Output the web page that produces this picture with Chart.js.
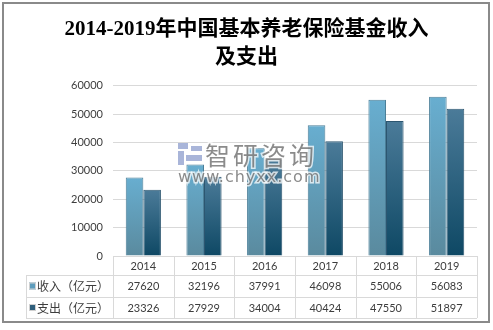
<!DOCTYPE html>
<html>
<head>
<meta charset="utf-8">
<script src="https://cdn.jsdelivr.net/npm/chart.js@4"></script>
<style>
  html, body { margin: 0; padding: 0; background: #fff; }
  #wrap { width: 493px; height: 330px; position: relative; }
</style>
</head>
<body>
<div id="wrap"><canvas id="fund"></canvas></div>
<script>
const years = ["2014", "2015", "2016", "2017", "2018", "2019"];
const income = [27620, 32196, 37991, 46098, 55006, 56083];
const expense = [23326, 27929, 34004, 40424, 47550, 51897];
const rowNames = ["收入（亿元）", "支出（亿元）"];
const titleLines = ["2014-2019年中国基本养老保险基金收入", "及支出"];

const numFont = "Lato, 'Noto Sans CJK SC', sans-serif";
const cjkFont = "'Noto Sans CJK SC', sans-serif";
const textColor = "#3d3d3d";
const lineColor = "#d9d9d9";

// vertical gradient per bar, lighter at the top of each bar
function barFill(top, bottom) {
  return (ctx) => {
    const chart = ctx.chart;
    const area = chart.chartArea;
    if (!area || ctx.type !== "data") return top;
    const y = chart.scales.y;
    const yTop = y.getPixelForValue(ctx.raw);
    const g = chart.ctx.createLinearGradient(0, yTop, 0, y.getPixelForValue(0));
    g.addColorStop(0, top);
    g.addColorStop(1, bottom);
    return g;
  };
}

// frame, data table under the axis and the watermark
const extras = {
  id: "extras",
  beforeDraw(chart) {
    const c = chart.ctx;
    c.save();
    c.strokeStyle = "#8a8a8a";
    c.lineWidth = 2;
    c.strokeRect(3, 3, 486, 319);
    c.restore();
  },
  afterDraw(chart) {
    const c = chart.ctx;
    const a = chart.chartArea;
    const x = chart.scales.x;
    const base = a.bottom;
    const rows = [base, base + 19, base + 41, base + 62];
    const legendLeft = 26;
    const half = (a.right - a.left) / years.length / 2;

    c.save();
    c.strokeStyle = lineColor;
    c.lineWidth = 1;
    c.beginPath();
    c.moveTo(a.left, base + 0.5); c.lineTo(a.right, base + 0.5);
    for (let r = 1; r < rows.length; r++) {
      c.moveTo(legendLeft, rows[r] + 0.5); c.lineTo(a.right, rows[r] + 0.5);
    }
    c.moveTo(legendLeft + 0.5, rows[1]); c.lineTo(legendLeft + 0.5, rows[3]);
    for (let i = 0; i <= years.length; i++) {
      const px = Math.round(i < years.length ? x.getPixelForValue(i) - half : x.getPixelForValue(i - 1) + half) + 0.5;
      c.moveTo(px, rows[0]); c.lineTo(px, rows[3]);
    }
    c.stroke();

    c.fillStyle = textColor;
    c.textAlign = "center";
    c.textBaseline = "middle";
    c.font = "11px " + numFont;
    const series = [income, expense];
    years.forEach((yr, i) => {
      const px = x.getPixelForValue(i);
      c.fillText(yr, px, (rows[0] + rows[1]) / 2 + 0.5);
      series.forEach((s, k) => {
        c.fillText(String(s[i]), px, (rows[k + 1] + rows[k + 2]) / 2 + 0.5);
      });
    });

    const swatch = ["#5e9dbd", "#2f5f7c"];
    c.textAlign = "left";
    c.font = "12px " + cjkFont;
    rowNames.forEach((name, k) => {
      const cy = (rows[k + 1] + rows[k + 2]) / 2;
      c.fillStyle = swatch[k];
      c.fillRect(29, cy - 3.5, 7, 7);
      c.strokeStyle = "#d0d0d0";
      c.strokeRect(29.5, cy - 3, 6, 6);
      c.fillStyle = textColor;
      c.fillText(name, 37, cy + 0.5);
    });

    // watermark
    c.globalAlpha = 0.75;
    c.fillStyle = "#8c9ccc";
    c.fillRect(178, 143, 10, 6);
    c.fillRect(178, 151, 6, 14);
    c.fillRect(191, 146, 11, 5);
    c.fillRect(186, 155, 16, 6);
    c.font = "25px " + cjkFont;
    c.letterSpacing = "3px";
    c.lineWidth = 3;
    c.strokeStyle = "#ffffff";
    c.strokeText("智研咨询", 205, 155);
    c.fillStyle = "#646464";
    c.fillText("智研咨询", 205, 155);
    c.font = "16px 'DejaVu Sans', sans-serif";
    c.letterSpacing = "1px";
    c.strokeText("www.chyxx.com", 178, 178);
    c.fillText("www.chyxx.com", 178, 178);
    c.restore();
  }
};

new Chart(document.getElementById("fund"), {
  type: "bar",
  data: {
    labels: years,
    datasets: [
      {
        label: rowNames[0],
        data: income,
        backgroundColor: barFill("#68aed0", "#5a8a9e"),
        borderColor: "#4b7f98",
        borderWidth: 1,
      },
      {
        label: rowNames[1],
        data: expense,
        backgroundColor: barFill("#4b7b99", "#0e4864"),
        borderColor: "#2c5670",
        borderWidth: 1,
      },
    ],
  },
  options: {
    responsive: true,
    maintainAspectRatio: false,
    animation: false,
    layout: { padding: { left: 16, right: 16, top: 0, bottom: 74 } },
    datasets: { bar: { categoryPercentage: 0.58, barPercentage: 1 } },
    plugins: {
      legend: { display: false },
      tooltip: { enabled: false },
      title: {
        display: true,
        text: titleLines,
        color: "#000",
        font: { family: "'Liberation Serif', 'Noto Sans CJK SC', serif", size: 21, weight: "bold", lineHeight: 1.35 },
        padding: { top: 15, bottom: 14 },
      },
    },
    scales: {
      x: { display: false },
      y: {
        min: 0,
        max: 60000,
        ticks: { stepSize: 10000, padding: 10, color: textColor, font: { family: numFont, size: 11 }, callback: (v) => String(v) },
        grid: { color: lineColor, drawTicks: false },
        border: { display: false },
        afterFit: (s) => { s.width = 97; },
      },
    },
  },
  plugins: [extras],
});
</script>
</body>
</html>
